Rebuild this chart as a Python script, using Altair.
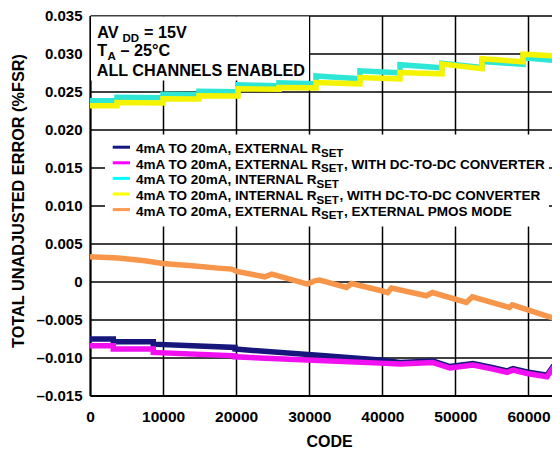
import altair as alt
import pandas as pd

# ---------------- data ----------------
X_TICKS = [0, 10000, 20000, 30000, 40000, 50000, 60000]
Y_TICKS = [-0.015, -0.010, -0.005, 0.0, 0.005, 0.010, 0.015, 0.020, 0.025, 0.030, 0.035]
X_MAX = 64313

NAVY_CODE = [0, 3190, 3191, 8660, 8661, 19840, 19841, 32160, 39680, 42420, 46930, 49260,
             52410, 55150, 57060, 57880, 59800, 62530, 63350, 64313]
NAVY_VAL = [-0.00758, -0.00758, -0.00793, -0.00793, -0.00824, -0.00868, -0.00889, -0.00978,
            -0.01034, -0.01067, -0.01046, -0.01119, -0.01080, -0.01133, -0.01177, -0.01146,
            -0.01191, -0.01234, -0.01119, -0.01102]

MAGENTA_CODE = [0, 3190, 3191, 8660, 8661, 19840, 19841, 32160, 39680, 42420, 46930, 49260,
                52410, 55150, 57060, 57880, 59800, 62530, 63350, 64313]
MAGENTA_VAL = [-0.00846, -0.00846, -0.00889, -0.00889, -0.00934, -0.00978, -0.00991, -0.01043,
               -0.01074, -0.01087, -0.01066, -0.01139, -0.01100, -0.01153, -0.01197, -0.01166,
               -0.01211, -0.01254, -0.01139, -0.01122]

STEP_CODE = [0, 3695, 3696, 9989, 9990, 14915, 14916, 20252, 20253, 25862, 25863, 30925,
             30926, 36946, 36947, 42419, 42420, 48166, 48167, 53640, 53641, 59250, 59251, 64313]
CYAN_VAL = [0.02378, 0.02378, 0.02424, 0.02417, 0.02463, 0.02460, 0.02503, 0.02496,
            0.02588, 0.02575, 0.02614, 0.02601, 0.02705, 0.02667, 0.02772, 0.02746,
            0.02851, 0.02812, 0.02870, 0.02815, 0.02895, 0.02858, 0.02943, 0.02904]
YELLOW_VAL = [0.02312, 0.02312, 0.02355, 0.02350, 0.02404, 0.02400, 0.02443, 0.02440,
              0.02536, 0.02530, 0.02553, 0.02548, 0.02618, 0.02601, 0.02684, 0.02667,
              0.02750, 0.02733, 0.02860, 0.02800, 0.02930, 0.02891, 0.02990, 0.02963]

ORANGE_CODE = [0, 3830, 7530, 9973, 13960, 17515, 19400, 20080, 23907, 24863, 29781, 30738,
               31421, 35109, 35792, 39891, 40710, 41257, 46038, 46858, 51503, 52322, 57377,
               57787, 62432, 64313]
ORANGE_VAL = [0.00325, 0.00308, 0.00272, 0.00237, 0.00207, 0.00176, 0.00163, 0.00132, 0.00062,
              0.00097, -0.00034, 0.00009, 0.00018, -0.00079, -0.00026, -0.00122, -0.00145,
              -0.00087, -0.00188, -0.00145, -0.00276, -0.00201, -0.00342, -0.00307, -0.00451,
              -0.00508]

SERIES = [
    ("navy", NAVY_CODE, NAVY_VAL, "#16167c"),
    ("magenta", MAGENTA_CODE, MAGENTA_VAL, "#f010f0"),
    ("cyan", STEP_CODE, CYAN_VAL, "#2ee6d6"),
    ("yellow", STEP_CODE, YELLOW_VAL, "#f4f400"),
    ("orange", ORANGE_CODE, ORANGE_VAL, "#f7964a"),
]

LEGEND_MAIN = ["4mA TO 20mA, EXTERNAL R", "4mA TO 20mA, EXTERNAL R", "4mA TO 20mA, INTERNAL R",
               "4mA TO 20mA, INTERNAL R", "4mA TO 20mA, EXTERNAL R"]
LEGEND_SUB = ["SET", "SET", "SET", "SET", "SET"]
LEGEND_SUFFIX = ["", ", WITH DC-TO-DC CONVERTER", "", ", WITH DC-TO-DC CONVERTER",
                 ", EXTERNAL PMOS MODE"]
LEGEND_COLORS = ["#16167c", "#ff00ff", "#00ffff", "#ffff00", "#ff9a50"]

FONT = "Liberation Sans"
W, H = 470, 380

xscale = alt.Scale(domain=[0, X_MAX], nice=False, zero=False)
yscale = alt.Scale(domain=[-0.015, 0.035], nice=False, zero=False)

xaxis = alt.Axis(values=X_TICKS, tickCount=20, format="d", title="CODE", grid=True,
                 gridColor="black", gridWidth=1.5, gridOpacity=1, domainColor="black",
                 domainWidth=2, ticks=False,
                 labelFont=FONT, labelFontSize=15.5, labelFontWeight="bold", labelColor="black",
                 labelBaseline="alphabetic", labelPadding=26, labelAlign="center",
                 labelFlush=False, labelOverlap=False,
                 titleFont=FONT, titleFontSize=16, titleFontWeight="bold", titleColor="black",
                 titleX=239, titleY=51, titleBaseline="alphabetic", titleAlign="center")
yaxis = alt.Axis(values=Y_TICKS, tickCount=20,
                 labelExpr="abs(datum.value) < 1e-9 ? '0' : (datum.value < 0 ? '\u2013' : '') + format(abs(datum.value), '.3f')",
                 title="TOTAL UNADJUSTED ERROR (%FSR)", grid=True, gridColor="black",
                 gridWidth=1.5, gridOpacity=1, domainColor="black", domainWidth=2, ticks=False,
                 labelFont=FONT, labelFontSize=15, labelFontWeight="bold", labelColor="black",
                 labelPadding=8, labelFlush=False, labelOverlap=False, labelBaseline="middle",
                 titleFont=FONT, titleFontSize=16.3, titleFontWeight="bold", titleColor="black",
                 titleAngle=270, titleX=-66.7, titleY=185, titleBaseline="alphabetic",
                 titleAlign="center")

dummy = pd.DataFrame({"a": [0]})

layers = []

# base layer carrying the axes (invisible)
axis_df = pd.DataFrame({"code": [0, X_MAX], "err": [-0.015, 0.035]})
layers.append(
    alt.Chart(axis_df).mark_point(opacity=0).encode(
        x=alt.X("code:Q", scale=xscale, axis=xaxis),
        y=alt.Y("err:Q", scale=yscale, axis=yaxis),
    )
)

# white boxes covering the grid (annotation and legend)
layers.append(alt.Chart(dummy).mark_rect(color="white").encode(
    x=alt.value(1), x2=alt.value(219), y=alt.value(1), y2=alt.value(65)))
layers.append(alt.Chart(dummy).mark_rect(color="white").encode(
    x=alt.value(15), x2=alt.value(459), y=alt.value(119), y2=alt.value(211)))

# data series
for name, codes, vals, col in SERIES:
    d = pd.DataFrame({"code": codes, "err": vals, "i": list(range(len(codes)))})
    layers.append(
        alt.Chart(d).mark_line(color=col, strokeWidth=5.5, clip=True, strokeCap="butt").encode(
            x=alt.X("code:Q", scale=xscale),
            y=alt.Y("err:Q", scale=yscale),
            order="i:Q",
        )
    )


def txt(s, x, y, size, align="left"):
    return alt.Chart(dummy).mark_text(
        text=s, font=FONT, fontSize=size, fontWeight="bold", color="black",
        align=align, baseline="alphabetic").encode(x=alt.value(x), y=alt.value(y))


# annotation
layers += [
    txt("AV", 7.3, 22.3, 16.2), txt("DD", 32.5, 26.7, 11.5), txt("= 15V", 54.0, 22.3, 16.2),
    txt("T", 7.3, 40.0, 16.2), txt("A", 17.5, 44.3, 11.5), txt("– 25°C", 30.5, 40.0, 16.2),
    txt("ALL CHANNELS ENABLED", 6.7, 60.0, 16.2),
]

# legend
for i in range(len(LEGEND_MAIN)):
    base = 137.7 + 15.6 * i
    internal = "INTERNAL" in LEGEND_MAIN[i]
    sub_x = 226.5 if internal else 231.0
    suf_x = 249.5 if internal else 254.0
    layers.append(alt.Chart(dummy).mark_rule(color=LEGEND_COLORS[i], strokeWidth=3).encode(
        x=alt.value(22.7), x2=alt.value(40), y=alt.value(base - 6)))
    layers.append(txt(LEGEND_MAIN[i], 46, base, 13.5))
    layers.append(txt(LEGEND_SUB[i], sub_x, base + 3.5, 11.5))
    if LEGEND_SUFFIX[i]:
        layers.append(txt(LEGEND_SUFFIX[i], suf_x, base, 13.5))

chart = alt.layer(*layers).properties(
    width=W, height=H,
    padding={"left": 82, "top": 7.5, "right": -8, "bottom": 53},
    autosize=alt.AutoSizeParams(type="none"),
    background="white",
).configure_view(stroke=None).configure_axis(labelOverlap=False)

chart.save("out.html", embed_options={"renderer": "svg", "actions": False})
